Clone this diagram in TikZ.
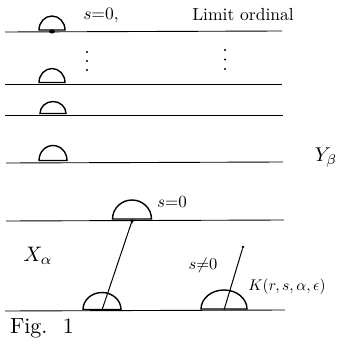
\documentclass[tikz,border=0pt]{standalone}
\usepackage{amssymb}
\begin{document}
\begin{tikzpicture}[x=1pt,y=-1pt,
  level/.style={line width=0.9pt},
  dome/.style={line width=1.4pt},
  stick/.style={line width=1pt},
  lbl/.style={inner sep=0pt},
  dotmark/.style={circle,fill,inner sep=0pt,minimum size=2.6pt}]
\useasboundingbox (0,0) rectangle (339,347);
% horizontal levels
\coordinate (l1a) at (5,32);  \coordinate (l1b) at (282,31);
\coordinate (l2a) at (5,84);  \coordinate (l2b) at (282,84);
\coordinate (l3a) at (5,115); \coordinate (l3b) at (283,115);
\coordinate (l4a) at (6,163); \coordinate (l4b) at (283,162);
\coordinate (l5a) at (6,221); \coordinate (l5b) at (284,220);
\coordinate (l6a) at (5,311); \coordinate (l6b) at (285,310);
\foreach \i in {1,...,6} \draw[level] (l\i a) -- (l\i b);
% domes
\draw[dome] (39,30) arc[start angle=180,end angle=360,x radius=13,y radius=14] -- cycle;
\fill (52,31.5) ellipse[x radius=3,y radius=2];
\draw[dome] (39,82.5) arc[start angle=180,end angle=360,x radius=13,y radius=14] -- cycle;
\draw[dome] (40,113.5) arc[start angle=180,end angle=360,x radius=13,y radius=12] -- cycle;
\draw[dome] (39,160.5) arc[start angle=180,end angle=360,x radius=14,y radius=15] -- cycle;
\draw[dome] (112.5,219) arc[start angle=180,end angle=360,x radius=19.5,y radius=19] -- cycle;
\draw[dome] (83,309.5) arc[start angle=180,end angle=360,x radius=19,y radius=17] -- cycle;
\draw[dome] (201,309) arc[start angle=180,end angle=360,x radius=23,y radius=19] -- cycle;
% sticks
\coordinate (top5) at (132,221);
\coordinate (foot6) at (102,310);
\fill (129.5,219.5) -- (134.5,219.5) -- (132,223.5) -- cycle;
\draw[stick] (top5) -- (foot6);
\node[dotmark] (tip7) at (243,247) {};
\coordinate (foot7) at (224,310);
\draw[stick] (tip7) -- (foot7);
% vertical dots
\foreach \y [count=\k] in {52,61,70} \node[dotmark,minimum size=2.2pt] (da\k) at (87,\y) {};
\foreach \y [count=\k] in {50,59.5,69} \node[dotmark,minimum size=2.2pt] (db\k) at (225,\y) {};
% labels
\node[lbl,scale=1.75] (s0a) at (101,16) {$s{=}0,$};
\node[lbl,scale=1.75] (lim) at (243,15) {Limit ordinal};
\node[lbl,scale=2.0] (Y) at (326,158) {$Y_\beta$};
\node[lbl,scale=1.7] (s0b) at (172,202) {$s{=}0$};
\node[lbl,scale=2.1] (X) at (38,256) {$X_\alpha$};
\node[lbl,scale=1.65] (sn0) at (203,265) {$s{\neq}0$};
\node[lbl,scale=1.55] (K) at (287,287) {$K(r,s,\alpha,\epsilon)$};
\node[lbl,scale=2.2] (fig) at (42,328) {Fig.\hspace{0.7em}1};
\end{tikzpicture}
\end{document}
